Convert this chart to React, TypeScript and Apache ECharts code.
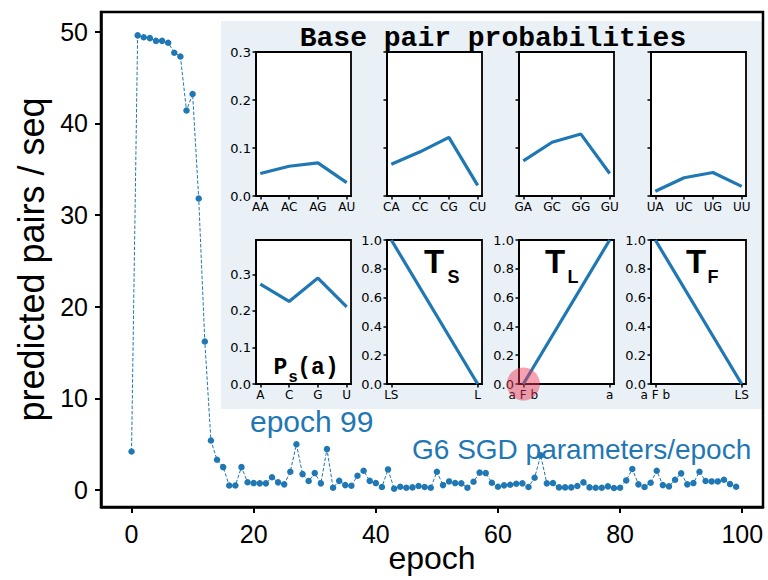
import React, { useEffect, useRef } from "react";
import * as echarts from "echarts";

// Training curve: predicted base pairs per sequence after each epoch
const predictedPairs: number[] = [
  4.2, 49.6, 49.4, 49.3, 49.0, 49.0, 48.8, 47.7, 47.3, 41.4,
  43.2, 31.8, 16.2, 5.4, 3.3, 2.5, 0.5, 0.5, 2.5, 0.85,
  0.76, 0.73, 0.73, 1.4, 0.84, 0.62, 2.0, 5.0, 1.74, 0.98,
  1.85, 0.73, 4.47, 0.25, 1.0, 0.54, 0.47, 1.56, 2.1, 1.0,
  0.76, 0.33, 2.25, 0.15, 0.36, 0.25, 0.29, 0.44, 0.33, 0.25,
  2.0, 0.54, 0.94, 0.76, 0.73, 0.25, 0.9, 1.9, 1.85, 0.8,
  0.36, 0.51, 0.58, 0.69, 0.73, 0.33, 1.34, 3.78, 0.73, 0.76,
  0.29, 0.29, 0.29, 0.44, 0.84, 0.29, 0.25, 0.25, 0.4, 0.22,
  0.25, 1.05, 2.3, 0.62, 0.33, 0.8, 2.1, 0.54, 0.4, 1.12,
  1.82, 0.62, 0.76, 2.0, 0.98, 0.94, 0.94, 1.12, 0.65, 0.36,
];
const epochTicks: number[] = [0, 20, 40, 60, 80, 100];
const pairTicks: number[] = [0, 10, 20, 30, 40, 50];

// Base pair probabilities, one panel per first base
const pairLabelsA: string[] = ["AA", "AC", "AG", "AU"];
const pairProbsA: number[] = [0.047, 0.062, 0.069, 0.028];
const pairLabelsC: string[] = ["CA", "CC", "CG", "CU"];
const pairProbsC: number[] = [0.066, 0.092, 0.122, 0.022];
const pairLabelsG: string[] = ["GA", "GC", "GG", "GU"];
const pairProbsG: number[] = [0.073, 0.112, 0.129, 0.047];
const pairLabelsU: string[] = ["UA", "UC", "UG", "UU"];
const pairProbsU: number[] = [0.01, 0.038, 0.049, 0.02];

// Single-base emission probabilities P_s(a)
const baseLabels: string[] = ["A", "C", "G", "U"];
const baseProbs: number[] = [0.273, 0.226, 0.29, 0.211];

// Transition probabilities
const transSLabels: string[] = ["LS", "L"];
const transSProbs: number[] = [1, 0];
const transLLabels: string[] = ["a F b", "a"];
const transLProbs: number[] = [0, 1];
const transFLabels: string[] = ["a F b", "LS"];
const transFProbs: number[] = [1, 0];

const probTicks4: number[] = [0, 0.1, 0.2, 0.3];
const probTicks10: number[] = [0, 0.2, 0.4, 0.6, 0.8, 1.0];

const BLUE = "#1f77b4";
const SANS = "Liberation Sans";
const SMALL = "DejaVu Sans";
const MONO = "Liberation Mono";

type Panel = {
  labels: string[];
  values: number[];
  left: number;
  top: number;
  yMax: number;
  yTicks: number[];
  showYLabels: boolean;
};

const COLS = [256, 387, 519, 651];
const ROWS = [52, 240];
const PW = 95;
const PH = 144;

const panels: Panel[] = [
  { labels: pairLabelsA, values: pairProbsA, left: COLS[0], top: ROWS[0], yMax: 0.3, yTicks: probTicks4, showYLabels: true },
  { labels: pairLabelsC, values: pairProbsC, left: COLS[1], top: ROWS[0], yMax: 0.3, yTicks: probTicks4, showYLabels: false },
  { labels: pairLabelsG, values: pairProbsG, left: COLS[2], top: ROWS[0], yMax: 0.3, yTicks: probTicks4, showYLabels: false },
  { labels: pairLabelsU, values: pairProbsU, left: COLS[3], top: ROWS[0], yMax: 0.3, yTicks: probTicks4, showYLabels: false },
  { labels: baseLabels, values: baseProbs, left: COLS[0], top: ROWS[1], yMax: 0.394, yTicks: probTicks4, showYLabels: true },
  { labels: transSLabels, values: transSProbs, left: COLS[1], top: ROWS[1], yMax: 1, yTicks: probTicks10, showYLabels: true },
  { labels: transLLabels, values: transLProbs, left: COLS[2], top: ROWS[1], yMax: 1, yTicks: probTicks10, showYLabels: true },
  { labels: transFLabels, values: transFProbs, left: COLS[3], top: ROWS[1], yMax: 1, yTicks: probTicks10, showYLabels: true },
];

function buildOption() {
  const grids: any[] = [
    {
      left: 101, top: 12, width: 662, height: 495,
      containLabel: false, outerBoundsMode: "none",
      show: true, borderColor: "#000", borderWidth: 2.5,
      backgroundColor: "transparent",
    },
  ];
  const xAxes: any[] = [
    {
      gridIndex: 0, type: "value", min: -5, max: 103.4,
      splitLine: { show: false },
      axisLine: { show: true, onZero: false, lineStyle: { color: "#000", width: 2.5 } },
      axisTick: { show: true, inside: false, length: 6, lineStyle: { color: "#000", width: 2 }, customValues: epochTicks },
      axisLabel: { show: true, customValues: epochTicks, color: "#000", fontFamily: SANS, fontSize: 25, margin: 14 },
      name: "epoch", nameLocation: "middle", nameGap: 34, nameMoveOverlap: false,
      nameTextStyle: { color: "#000", fontFamily: SANS, fontSize: 32, lineHeight: 34 },
    },
  ];
  const yAxes: any[] = [
    {
      gridIndex: 0, type: "value", min: -1.85, max: 52.15,
      splitLine: { show: false },
      axisLine: { show: true, onZero: false, lineStyle: { color: "#000", width: 2.5 } },
      axisTick: { show: true, inside: false, length: 6, lineStyle: { color: "#000", width: 2 }, customValues: pairTicks },
      axisLabel: { show: true, customValues: pairTicks, color: "#000", fontFamily: SANS, fontSize: 25, margin: 13 },
      name: "predicted pairs / seq", nameLocation: "middle", nameGap: 45, nameRotate: 90,
      nameTextStyle: { color: "#000", fontFamily: SANS, fontSize: 36 },
    },
  ];
  const series: any[] = [
    {
      type: "line",
      xAxisIndex: 0, yAxisIndex: 0,
      data: predictedPairs.map((v, i) => [i, v]),
      symbol: "circle", symbolSize: 6.5,
      itemStyle: { color: BLUE },
      lineStyle: { color: BLUE, width: 1, type: [3.5, 1.8] },
      z: 3,
    },
  ];

  panels.forEach((p, k) => {
    const gi = k + 1;
    const n = p.labels.length;
    const pad = (n - 1) * 0.05;
    const xTicks = p.labels.map((_, i) => i);
    grids.push({
      left: p.left, top: p.top, width: PW, height: PH,
      containLabel: false, outerBoundsMode: "none",
      show: true, borderColor: "#000", borderWidth: 1.8, backgroundColor: "#fff",
    });
    xAxes.push({
      gridIndex: gi, type: "value", min: -pad, max: n - 1 + pad,
      splitLine: { show: false },
      axisLine: { show: true, onZero: false, lineStyle: { color: "#000", width: 1.8 } },
      axisTick: { show: true, inside: false, length: 3.5, lineStyle: { color: "#000", width: 1.5 }, customValues: xTicks },
      axisLabel: {
        show: true, customValues: xTicks, color: "#000", fontFamily: SMALL, fontSize: 12, margin: 5,
        formatter: (v: number) => p.labels[Math.round(v)] ?? "",
      },
    });
    yAxes.push({
      gridIndex: gi, type: "value", min: 0, max: p.yMax,
      splitLine: { show: false },
      axisLine: { show: true, onZero: false, lineStyle: { color: "#000", width: 1.8 } },
      axisTick: { show: true, inside: false, length: 3.5, lineStyle: { color: "#000", width: 1.5 }, customValues: p.yTicks },
      axisLabel: {
        show: p.showYLabels, customValues: p.yTicks, color: "#000", fontFamily: SMALL, fontSize: 13, margin: 5,
        formatter: (v: number) => v.toFixed(1),
      },
    });
    series.push({
      type: "line",
      xAxisIndex: gi, yAxisIndex: gi,
      data: p.values.map((v, i) => [i, v]),
      showSymbol: false, symbol: "none",
      lineStyle: { color: BLUE, width: 3.2 },
      z: 3,
    });
  });

  // highlight of the starting state in the T_L panel
  series.push({
    type: "scatter",
    xAxisIndex: 7, yAxisIndex: 7,
    data: [[0, 0]],
    symbol: "circle", symbolSize: 33,
    itemStyle: { color: "rgba(235, 55, 85, 0.58)" },
    clip: false,
    z: 10,
  });

  const txt = (text: string, x: number, y: number, font: string, fill = "#000", align = "center") => ({
    type: "text", x, y, z: 20,
    style: { text, font, fill, align, verticalAlign: "middle" },
  });

  const graphic: any[] = [
    { type: "rect", z: -1, shape: { x: 221, y: 21, width: 542, height: 388 }, style: { fill: "#e9f0f6" }, silent: true },
    txt("Base pair probabilities", 493, 38, `bold 28px "${MONO}"`),
    txt("P", 280.5, 368, `bold 23px "${MONO}"`),
    txt("s", 293, 378, `bold 16px "${MONO}"`),
    txt("(a)", 318, 368, `bold 23px "${MONO}"`),
    txt("T", 434, 261, `bold 33px "${SANS}"`),
    txt("S", 453.5, 277, `bold 18px "${SANS}"`),
    txt("T", 555, 261, `bold 33px "${SANS}"`),
    txt("L", 573, 277, `bold 18px "${SANS}"`),
    txt("T", 696, 261, `bold 33px "${SANS}"`),
    txt("F", 713, 277, `bold 18px "${SANS}"`),
    txt("epoch 99", 250, 421, `30px "${SANS}"`, BLUE, "left"),
    txt("G6 SGD parameters/epoch", 412, 449, `28px "${SANS}"`, BLUE, "left"),
  ];

  return {
    animation: false,
    backgroundColor: "#fff",
    grid: grids,
    xAxis: xAxes,
    yAxis: yAxes,
    series,
    graphic,
  };
}

export default function App() {
  const ref = useRef<HTMLDivElement>(null);
  useEffect(() => {
    if (!ref.current) return;
    const chart = echarts.init(ref.current, undefined, { renderer: "svg" });
    chart.setOption(buildOption() as any);
    return () => chart.dispose();
  }, []);
  return (
    <div
      ref={ref}
      style={{ position: "fixed", left: 0, top: 0, width: 768, height: 580 }}
    />
  );
}
